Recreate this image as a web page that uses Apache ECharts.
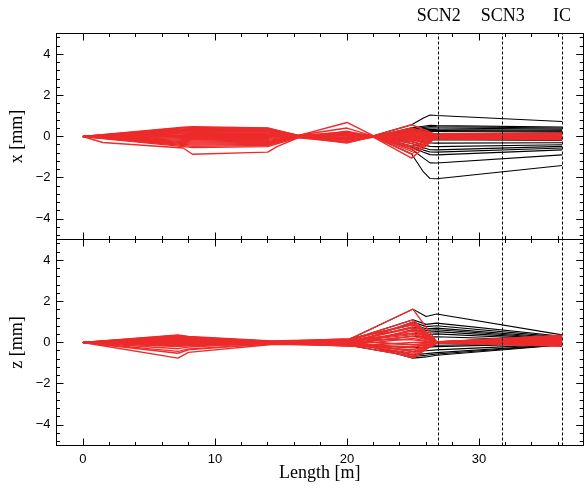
<!DOCTYPE html>
<html><head><meta charset="utf-8">
<script src="https://cdn.jsdelivr.net/npm/echarts@6/dist/echarts.min.js"></script>
<style>html,body{margin:0;padding:0;background:#fff}#c{width:584px;height:491px}</style>
</head><body><div id="c"></div>
<script>
// ---------- axis ticks ----------
const xMajorTicks = [0, 10, 20, 30];
const xMinorTicks = [2, 4, 6, 8, 12, 14, 16, 18, 22, 24, 26, 28, 32, 34, 36];
const yMajorTicks = [-4, -2, 0, 2, 4];
const yMinorTicks = [-4.8, -4.4, -3.6, -3.2, -2.8, -2.4, -1.6, -1.2, -0.8, -0.4, 0.4, 0.8, 1.2, 1.6, 2.4, 2.8, 3.2, 3.6, 4.4, 4.8];
const xRange = [-2, 37.9];
const yRange = [-5, 5];

// ---------- detector positions ----------
const markerNames = ['SCN2', 'SCN3', 'IC'];
const markerPos = [26.95, 31.8, 36.3];

// ---------- x [mm] panel : red trajectories ----------
const redXStations = [0, 7.6, 8.3, 14.0, 16.3, 20.0, 22.0, 24.9, 26.6, 36.3];
const redX01 = [0, 0.45, 0.47, 0.42, 0.05, 0.22, 0.03, 0.57, 0.14, 0.16];
const redX02 = [0, 0.41, 0.44, 0.40, 0.04, 0.68, 0.04, -0.18, 0.02, 0.05];
const redX03 = [0, 0.37, 0.40, 0.37, 0.06, 0.41, 0.02, 0.32, 0.10, 0.12];
const redX04 = [0, 0.33, 0.36, 0.33, 0.03, 0.14, 0.01, -0.46, -0.08, -0.14];
const redX05 = [0, 0.29, 0.31, 0.29, 0.02, -0.10, -0.02, 0.26, 0.07, 0.09];
const redX06 = [0, 0.25, 0.27, 0.25, 0.04, 0.09, 0.03, -0.62, -0.11, -0.16];
const redX07 = [0, 0.21, 0.23, 0.21, 0.01, -0.24, -0.03, 0.19, 0.05, 0.03];
const redX08 = [0, 0.17, 0.18, 0.17, 0.03, 0.05, 0.01, -0.34, -0.06, -0.08];
const redX09 = [0, 0.13, 0.14, 0.13, -0.02, 0.21, 0.00, 0.10, 0.03, 0.14];
const redX10 = [0, 0.09, 0.10, 0.09, 0.02, -0.06, -0.01, -0.15, -0.03, -0.04];
const redX11 = [0, 0.05, 0.05, 0.05, -0.01, 0.12, 0.02, 0.05, 0.01, 0.07];
const redX12 = [0, 0.01, 0.01, 0.01, 0.00, -0.15, 0.00, -0.06, -0.01, -0.11];
const redX13 = [0, -0.04, -0.05, -0.04, 0.01, 0.08, -0.01, 0.35, 0.08, 0.01];
const redX14 = [0, -0.09, -0.10, -0.09, -0.02, -0.32, 0.01, -0.25, -0.05, -0.06];
const redX15 = [0, -0.14, -0.16, -0.14, 0.02, 0.16, -0.02, 0.15, 0.04, 0.10];
const redX16 = [0, -0.19, -0.21, -0.19, -0.03, -0.02, 0.01, -0.52, -0.09, -0.12];
const redX17 = [0, -0.24, -0.27, -0.24, 0.01, -0.13, 0.00, 0.21, 0.06, -0.02];
const redX18 = [0, -0.29, -0.32, -0.29, -0.04, 0.03, 0.02, -0.72, -0.12, -0.15];
const redX19 = [0, -0.34, -0.37, -0.34, 0.02, -0.19, -0.01, 0.42, 0.11, 0.13];
const redX20 = [0, -0.39, -0.42, -0.39, -0.03, 0.18, 0.01, -0.10, -0.02, 0.04];
const redX21 = [0, -0.44, -0.48, -0.44, 0.01, -0.08, 0.00, -0.85, -0.13, -0.09];
const redX22 = [0, -0.49, -0.54, -0.49, -0.05, 0.26, -0.02, 0.01, 0.00, 0.06];
const redXOutlierStations = [0, 1.5, 7.6, 8.3, 14.0, 14.7, 16.3, 20.0, 22.0, 24.9, 26.6, 36.3];
const redXOutlier = [0, -0.29, -0.56, -0.86, -0.76, -0.49, -0.06, -0.28, -0.03, -1.05, -0.12, -0.10];

// ---------- x [mm] panel : black trajectories ----------
const blackXStations = [22.0, 24.9, 25.8, 26.3, 26.8, 36.3];
const blackX01 = [0.03, 0.57, 0.90, 1.04, 1.02, 0.73];
const blackX02 = [-0.01, 0.42, 0.50, 0.54, 0.53, 0.46];
const blackX03 = [-0.01, 0.35, 0.44, 0.48, 0.47, 0.41];
const blackX04 = [0.02, 0.32, 0.38, 0.41, 0.41, 0.36];
const blackX05 = [-0.02, 0.26, 0.31, 0.35, 0.34, 0.30];
const blackX06 = [0.00, 0.21, 0.26, 0.29, 0.29, 0.26];
const blackX07 = [-0.03, 0.19, 0.22, 0.24, 0.24, 0.21];
const blackX08 = [0.00, -0.06, -0.13, -0.17, -0.16, -0.19];
const blackX09 = [-0.01, -0.15, -0.26, -0.31, -0.32, -0.30];
const blackX10 = [0.01, -0.25, -0.41, -0.48, -0.49, -0.40];
const blackX11 = [0.01, -0.34, -0.55, -0.64, -0.65, -0.48];
const blackX12 = [0.01, -0.46, -0.66, -0.75, -0.76, -0.56];
const blackX13 = [0.01, -0.52, -0.76, -0.88, -0.89, -0.65];
const blackX14 = [0.03, -0.62, -1.05, -1.28, -1.29, -0.89];
const blackX15 = [0.00, -0.85, -1.72, -2.04, -2.05, -1.41];

// ---------- z [mm] panel : red trajectories ----------
const redZStations = [0, 7.2, 8.0, 14.3, 20.2, 25.0, 26.8, 36.3];
const redZ01 = [0, 0.37, 0.29, 0.07, 0.16, 1.62, 0.04, 0.30];
const redZ02 = [0, 0.34, 0.27, 0.05, 0.12, 1.10, 0.03, 0.22];
const redZ03 = [0, 0.31, 0.25, 0.06, -0.08, 0.99, 0.02, 0.36];
const redZ04 = [0, 0.28, 0.22, 0.04, 0.18, 0.86, -0.01, 0.15];
const redZ05 = [0, 0.25, 0.20, 0.03, 0.05, 0.75, 0.03, 0.28];
const redZ06 = [0, 0.22, 0.17, -0.02, -0.15, 0.62, -0.02, 0.05];
const redZ07 = [0, 0.19, 0.15, 0.05, 0.10, 0.45, 0.01, 0.32];
const redZ08 = [0, 0.16, 0.13, 0.01, -0.05, 0.30, 0.02, -0.10];
const redZ09 = [0, 0.13, 0.10, 0.03, 0.14, 0.13, -0.01, 0.18];
const redZ10 = [0, 0.10, 0.08, -0.01, -0.18, 0.00, 0.00, -0.05];
const redZ11 = [0, 0.07, 0.06, 0.02, 0.07, -0.11, 0.02, 0.25];
const redZ12 = [0, 0.04, 0.03, -0.03, -0.10, -0.25, -0.02, 0.00];
const redZ13 = [0, 0.01, 0.01, 0.02, 0.03, -0.44, 0.01, 0.12];
const redZ14 = [0, -0.02, -0.02, -0.04, -0.03, -0.60, -0.03, -0.15];
const redZ15 = [0, -0.05, -0.04, 0.01, 0.09, -0.76, 0.00, 0.08];
const redZ16 = [0, -0.08, -0.06, -0.05, -0.12, 0.20, -0.01, -0.19];
const redZ17 = [0, -0.11, -0.08, 0.00, 0.01, 0.55, 0.02, 0.20];
const redZ18 = [0, -0.14, -0.11, -0.06, -0.16, -0.35, -0.02, -0.08];
const redZ19 = [0, -0.17, -0.13, 0.02, 0.11, 0.92, 0.01, 0.34];
const redZ20 = [0, -0.20, -0.15, -0.07, -0.06, -0.52, -0.03, -0.12];
const redZ21 = [0, -0.30, -0.22, -0.03, 0.04, 0.38, 0.02, 0.10];
const redZ22 = [0, -0.43, -0.31, -0.08, -0.14, -0.68, -0.02, -0.02];
const redZ23 = [0, -0.52, -0.36, -0.05, 0.06, 0.70, 0.03, 0.26];
const redZ24 = [0, -0.76, -0.48, -0.10, -0.09, -0.20, -0.01, -0.16];

// ---------- z [mm] panel : black trajectories ----------
const blackZStations = [20.2, 25.0, 26.0, 26.8, 36.3];
const blackZ01 = [0.16, 1.62, 1.26, 1.38, 0.37];
const blackZ02 = [0.12, 1.10, 0.88, 0.94, 0.30];
const blackZ03 = [-0.08, 0.99, 0.77, 0.81, 0.26];
const blackZ04 = [0.18, 0.86, 0.67, 0.70, 0.22];
const blackZ05 = [0.05, 0.75, 0.59, 0.62, 0.18];
const blackZ06 = [-0.15, 0.62, 0.50, 0.53, 0.15];
const blackZ07 = [0.10, 0.45, 0.38, 0.42, 0.12];
const blackZ08 = [-0.05, 0.30, 0.26, 0.28, 0.09];
const blackZ09 = [0.07, -0.11, -0.13, -0.13, -0.03];
const blackZ10 = [-0.10, -0.25, -0.23, -0.20, -0.05];
const blackZ11 = [0.03, -0.44, -0.40, -0.36, -0.08];
const blackZ12 = [-0.03, -0.60, -0.54, -0.49, -0.10];
const blackZ13 = [-0.14, -0.68, -0.62, -0.56, -0.11];
const blackZ14 = [0.09, -0.76, -0.70, -0.62, -0.12];

// ---------- build ----------
const RED = '#ED2B2B', BLACK = '#000000';
const redX = [redX01, redX02, redX03, redX04, redX05, redX06, redX07, redX08, redX09, redX10, redX11,
  redX12, redX13, redX14, redX15, redX16, redX17, redX18, redX19, redX20, redX21, redX22];
const blackX = [blackX01, blackX02, blackX03, blackX04, blackX05, blackX06, blackX07, blackX08,
  blackX09, blackX10, blackX11, blackX12, blackX13, blackX14, blackX15];
const redZ = [redZ01, redZ02, redZ03, redZ04, redZ05, redZ06, redZ07, redZ08, redZ09, redZ10, redZ11, redZ12,
  redZ13, redZ14, redZ15, redZ16, redZ17, redZ18, redZ19, redZ20, redZ21, redZ22, redZ23, redZ24];
const blackZ = [blackZ01, blackZ02, blackZ03, blackZ04, blackZ05, blackZ06, blackZ07, blackZ08,
  blackZ09, blackZ10, blackZ11, blackZ12, blackZ13, blackZ14];

const serif = 'Liberation Serif';
const sans = 'Liberation Sans';
const fmtY = v => v < 0 ? '\u2212' + (-v) : String(v);

function xAx(grid, pos, ticks, len, opts) {
  opts = opts || {};
  return Object.assign({
    type: 'value', gridIndex: grid, position: pos, min: xRange[0], max: xRange[1],
    splitLine: { show: false },
    axisLine: { show: !!opts.line, onZero: false, lineStyle: { color: '#000', width: 1 } },
    axisTick: { show: true, inside: true, length: len, customValues: ticks, lineStyle: { color: '#000', width: 1 } },
    axisLabel: { show: !!opts.labels, customValues: ticks, margin: 7, fontFamily: sans, fontSize: 13, color: '#000' }
  }, opts.extra || {});
}
function yAx(grid, pos, ticks, len, opts) {
  opts = opts || {};
  return Object.assign({
    type: 'value', gridIndex: grid, position: pos, min: yRange[0], max: yRange[1],
    splitLine: { show: false },
    axisLine: { show: !!opts.line, onZero: false, lineStyle: { color: '#000', width: 1 } },
    axisTick: { show: true, inside: true, length: len, customValues: ticks, lineStyle: { color: '#000', width: 1 } },
    axisLabel: { show: !!opts.labels, customValues: ticks, margin: 6, fontFamily: sans, fontSize: 13, color: '#000', formatter: fmtY }
  }, opts.extra || {});
}

const nameStyle = { fontFamily: serif, fontSize: 18, color: '#000' };
const xAxes = [
  xAx(0, 'bottom', xMajorTicks, 7, { line: true }),
  xAx(0, 'top', xMajorTicks, 7, { line: true }),
  xAx(0, 'bottom', xMinorTicks, 3.5),
  xAx(0, 'top', xMinorTicks, 3.5),
  xAx(1, 'bottom', xMajorTicks, 7, { line: true, labels: true, extra: { name: 'Length [m]', nameLocation: 'middle', nameGap: 19, nameMoveOverlap: false, nameTextStyle: nameStyle } }),
  xAx(1, 'top', xMajorTicks, 7, { line: true }),
  xAx(1, 'bottom', xMinorTicks, 3.5),
  xAx(1, 'top', xMinorTicks, 3.5)
];
const yAxes = [
  yAx(0, 'left', yMajorTicks, 7, { line: true, labels: true, extra: { name: 'x [mm]', nameLocation: 'middle', nameGap: 30, nameRotate: 90, nameMoveOverlap: false, nameTextStyle: nameStyle } }),
  yAx(0, 'right', yMajorTicks, 7, { line: true }),
  yAx(0, 'left', yMinorTicks, 3.5),
  yAx(0, 'right', yMinorTicks, 3.5),
  yAx(1, 'left', yMajorTicks, 7, { line: true, labels: true, extra: { name: 'z [mm]', nameLocation: 'middle', nameGap: 30, nameRotate: 90, nameMoveOverlap: false, nameTextStyle: nameStyle } }),
  yAx(1, 'right', yMajorTicks, 7, { line: true }),
  yAx(1, 'left', yMinorTicks, 3.5),
  yAx(1, 'right', yMinorTicks, 3.5)
];

function lineSeries(stations, vals, color, panel) {
  return {
    type: 'line', xAxisIndex: panel * 4, yAxisIndex: panel * 4,
    data: stations.map((s, i) => [s, vals[i]]),
    showSymbol: false, symbol: 'none', silent: true, animation: false,
    lineStyle: { color: color, width: color === RED ? 1.4 : 1.1 }, clip: true, z: color === RED ? 3 : 2
  };
}
function markerSeries(panel) {
  return {
    type: 'line', xAxisIndex: panel * 4, yAxisIndex: panel * 4,
    data: [], silent: true, animation: false, symbol: 'none',
    markLine: {
      silent: true, symbol: ['none', 'none'], animation: false,
      lineStyle: { color: '#000', type: [3, 2], width: 1 },
      label: { show: panel === 0, position: 'end', distance: 8, formatter: '{b}', fontFamily: serif, fontSize: 18, color: '#000' },
      data: markerPos.map((p, i) => ({ xAxis: p, name: markerNames[i] }))
    },
    z: 4
  };
}

const series = [];
blackX.forEach(v => series.push(lineSeries(blackXStations, v, BLACK, 0)));
redX.forEach(v => series.push(lineSeries(redXStations, v, RED, 0)));
series.push(lineSeries(redXOutlierStations, redXOutlier, RED, 0));
blackZ.forEach(v => series.push(lineSeries(blackZStations, v, BLACK, 1)));
redZ.forEach(v => series.push(lineSeries(redZStations, v, RED, 1)));
series.push(markerSeries(0));
series.push(markerSeries(1));

const chart = echarts.init(document.getElementById('c'), null, { renderer: 'canvas' });
chart.setOption({
  animation: false,
  backgroundColor: '#fff',
  grid: [
    { left: 56.5, top: 33.5, width: 526.7, height: 206, containLabel: false, outerBoundsMode: 'none' },
    { left: 56.5, top: 239.5, width: 526.7, height: 206, containLabel: false, outerBoundsMode: 'none' }
  ],
  xAxis: xAxes,
  yAxis: yAxes,
  series: series
});
</script></body></html>
